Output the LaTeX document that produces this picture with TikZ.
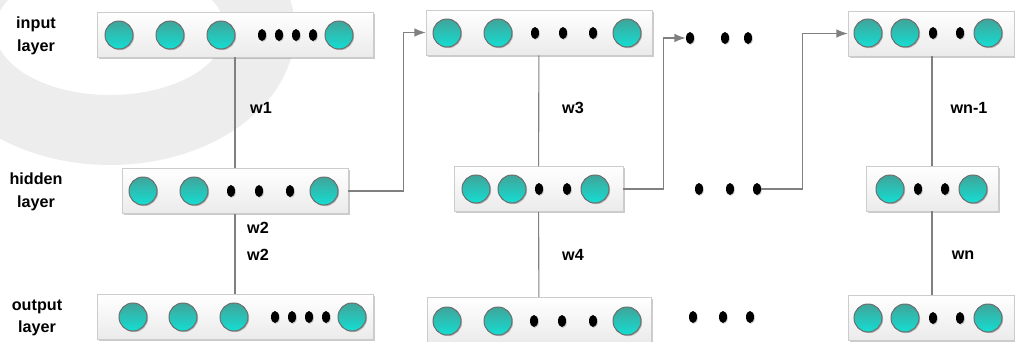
\documentclass[tikz,border=0pt]{standalone}
\usepackage{fontspec}
\setmainfont{Liberation Sans}
\usetikzlibrary{arrows.meta,shapes.geometric,shadows}

\definecolor{cellhi}{RGB}{64,164,154}
\definecolor{celllo}{RGB}{20,222,210}
\definecolor{celledge}{RGB}{108,108,108}
\definecolor{linkgray}{RGB}{128,128,128}
\definecolor{markgray}{RGB}{237,237,237}

\tikzset{
  layerbox/.style={draw=black!20, top color=white, bottom color=black!8, inner sep=0pt,
    minimum height=45*0.025cm,
    drop shadow={shadow xshift=1.2pt, shadow yshift=-1.2pt, opacity=.2, fill=black}},
  neuron/.style={circle, draw=celledge, line width=.7pt, top color=cellhi, bottom color=celllo,
    minimum size=28*0.025cm, inner sep=0pt,
    drop shadow={shadow xshift=.8pt, shadow yshift=-.8pt, opacity=.25, fill=black}},
  blob/.style={ellipse, fill=black, minimum width=8*0.025cm, minimum height=12*0.025cm, inner sep=0pt,
    drop shadow={shadow xshift=.6pt, shadow yshift=-.6pt, opacity=.2, fill=black}},
  link/.style={draw=linkgray, line width=.8pt},
  feed/.style={link, -{Latex[length=8pt,width=6pt]}},
  tag/.style={font=\bfseries\fontsize{11.5}{16}\selectfont, align=center, inner sep=0pt}
}

\begin{document}
\begin{tikzpicture}[x=0.025cm, y=-0.025cm]
\useasboundingbox (0,0) rectangle (1015,342);

% watermark ring
\fill[markgray, even odd rule] (110,30) ellipse [x radius=185, y radius=135]
                               (110,30) ellipse [x radius=115, y radius=65];

% layer boxes
\node[layerbox, minimum width=276*0.025cm] (in1) at (235,34.5) {};
\node[layerbox, minimum width=226*0.025cm] (hid1) at (235,191) {};
\node[layerbox, minimum width=276*0.025cm] (out1) at (235,317) {};

\node[layerbox, minimum width=226*0.025cm] (in2) at (539,32.5) {};
\node[layerbox, minimum width=169*0.025cm] (hid2) at (538.5,189) {};
\node[layerbox, minimum width=224*0.025cm] (out2) at (539,320) {};

\node[layerbox, minimum width=166*0.025cm] (inN) at (931,33.5) {};
\node[layerbox, minimum width=132*0.025cm] (hidN) at (932,188.5) {};
\node[layerbox, minimum width=166*0.025cm] (outN) at (931,318) {};

% neurons
\foreach \cx [count=\k] in {119,170,221,339} \node[neuron] (in1c\k) at (\cx,35) {};
\foreach \cx [count=\k] in {262,279,296,313} \node[blob] (in1d\k) at (\cx,35) {};
\foreach \cx [count=\k] in {143,194,324} \node[neuron] (hid1c\k) at (\cx,191) {};
\foreach \cx [count=\k] in {231,259,290} \node[blob] (hid1d\k) at (\cx,191) {};
\foreach \cx [count=\k] in {133,183,234,352} \node[neuron] (out1c\k) at (\cx,317) {};
\foreach \cx [count=\k] in {275,292,309,326} \node[blob] (out1d\k) at (\cx,317) {};

\foreach \cx [count=\k] in {447,498,627} \node[neuron] (in2c\k) at (\cx,33) {};
\foreach \cx [count=\k] in {535,563,593} \node[blob] (in2d\k) at (\cx,33) {};
\foreach \cx [count=\k] in {476,512,595} \node[neuron] (hid2c\k) at (\cx,189) {};
\foreach \cx [count=\k] in {539,567} \node[blob] (hid2d\k) at (\cx,189) {};
\foreach \cx [count=\k] in {447,498,627} \node[neuron] (out2c\k) at (\cx,321) {};
\foreach \cx [count=\k] in {534,562,593} \node[blob] (out2d\k) at (\cx,321) {};

\foreach \cx [count=\k] in {868,905,988} \node[neuron] (inNc\k) at (\cx,33) {};
\foreach \cx [count=\k] in {933,960} \node[blob] (inNd\k) at (\cx,33) {};
\foreach \cx [count=\k] in {890,973} \node[neuron] (hidNc\k) at (\cx,189) {};
\foreach \cx [count=\k] in {918,945} \node[blob] (hidNd\k) at (\cx,189) {};
\foreach \cx [count=\k] in {868,905,988} \node[neuron] (outNc\k) at (\cx,318) {};
\foreach \cx [count=\k] in {933,960} \node[blob] (outNd\k) at (\cx,318) {};

% dots between the columns
\foreach \cx [count=\k] in {690,725,748} \node[blob] (gapin\k) at (\cx,38) {};
\foreach \cx [count=\k] in {699,730,757} \node[blob] (gaphid\k) at (\cx,189) {};
\foreach \cx [count=\k] in {693,723,750} \node[blob] (gapout\k) at (\cx,317) {};

% weights
\draw[link] (in1) -- (hid1) -- (out1);
\draw[link] (in2) -- (hid2) -- (out2);
\draw[link] (inN.south -| hidN) -- (hidN) -- (outN.north -| hidN);

\draw[feed] (hid1.east) -- ++(55,0) |- (in2.west);
\draw[feed] (hid2.east) -- ++(40,0) |- (gapin1.west);
\draw[feed] (gaphid3.east) -- ++(41,0) |- (inN.west);

\node[tag] (w1) at (261,108) {w1};
\node[tag] (w2a) at (258,228) {w2};
\node[tag] (w2b) at (258,255) {w2};
\node[tag] (w3) at (573,108) {w3};
\node[tag] (w4) at (573,255) {w4};
\node[tag] (wn1) at (969,108) {wn-1};
\node[tag] (wn) at (963,255) {wn};

\node[tag] (lin) at (36,36) {input\\layer};
\node[tag] (lhid) at (36,192) {hidden\\layer};
\node[tag] (lout) at (37,318) {output\\layer};
\end{tikzpicture}
\end{document}
